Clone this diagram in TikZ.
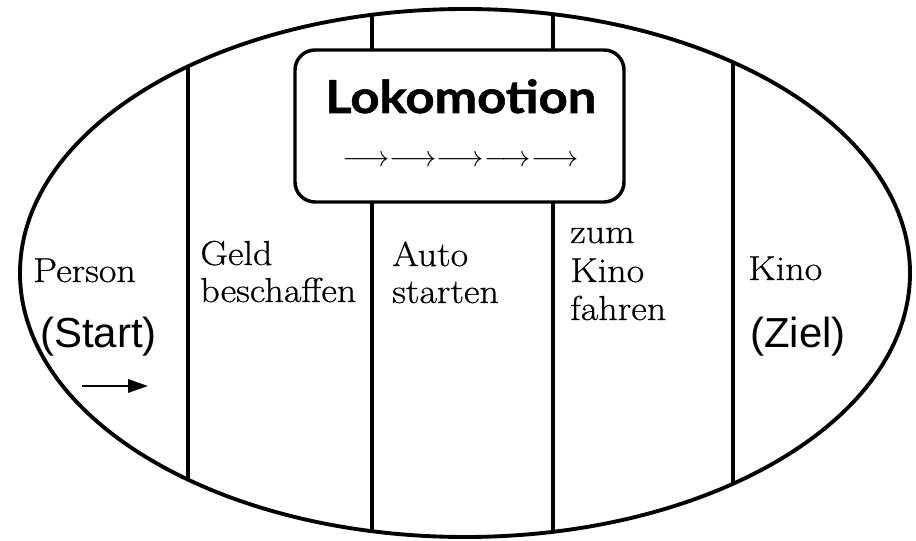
\RequirePackage{fix-cm}
\documentclass[tikz,border=0pt]{standalone}
\usepackage{fontspec}
\newfontfamily\labelsans{Liberation Sans}
\newfontfamily\titlesans{Lato}[FakeStretch=1.12, FakeBold=1.2]
\newfontfamily\stagefont{Latin Modern Roman}[FakeStretch=1.1, FakeBold=0.6]
\usetikzlibrary{arrows.meta,shapes.geometric}

\begin{document}
\begin{tikzpicture}[x=0.75pt,y=-0.75pt,
  stage/.style={anchor=base west, inner sep=0pt, font=\stagefont\fontsize{26}{30}\selectfont},
  marker/.style={anchor=base west, inner sep=0pt, font=\labelsans\fontsize{31.5}{34}\selectfont},
  divider/.style={line width=2.6pt},
  rim/.style={line width=2.9pt},
  titlebox/.style={draw, line width=2.6pt, rounded corners=15pt, fill=white,
    minimum width=246.75pt, minimum height=114pt, inner sep=0pt},
]
\useasboundingbox (0,0) rectangle (916,541);

% life space
\node[draw, rim, ellipse, minimum width=667.5pt, minimum height=396pt, inner sep=0pt] (field) at (465,273) {};

% region boundaries
\draw[divider] (188,65.5) -- (188,480.5);
\draw[divider] (372,14) -- (372,532);
\draw[divider] (553,13.5) -- (553,532.5);
\draw[divider] (733,61.5) -- (733,484.5);

% locomotion box
\node[titlebox] (loko) at (459.5,126) {};
\node[anchor=base west, inner sep=0pt, font=\titlesans\bfseries\fontsize{34}{36}\selectfont] (lokotitle) at (325,113) {Lokomotion};
\node[anchor=base west, inner sep=0pt, font=\fontsize{22}{26}\selectfont] (lokoarrows) at (342,167)
  {$\longrightarrow\longrightarrow\longrightarrow\longrightarrow\longrightarrow$};

% regions
\node[stage] (person) at (33,282) {Person};
\node[marker] (start) at (40,347) {(Start)};
\coordinate (go0) at (82,386);
\coordinate (go1) at (148,386);
\draw[line width=1.6pt, -{Triangle[length=15pt,width=10pt]}] (go0) -- (go1);

\node[stage] (geld) at (200,265) {Geld};
\node[stage] (beschaffen) at (200,302) {beschaffen};

\node[stage] (auto) at (392,266) {Auto};
\node[stage] (starten) at (392,303) {starten};

\node[stage] (zum) at (570,243) {zum};
\node[stage] (kinoa) at (570,282) {Kino};
\node[stage] (fahren) at (570,320) {fahren};

\node[stage] (kinob) at (748,280) {Kino};
\node[marker] (ziel) at (750,347) {(Ziel)};
\end{tikzpicture}
\end{document}
